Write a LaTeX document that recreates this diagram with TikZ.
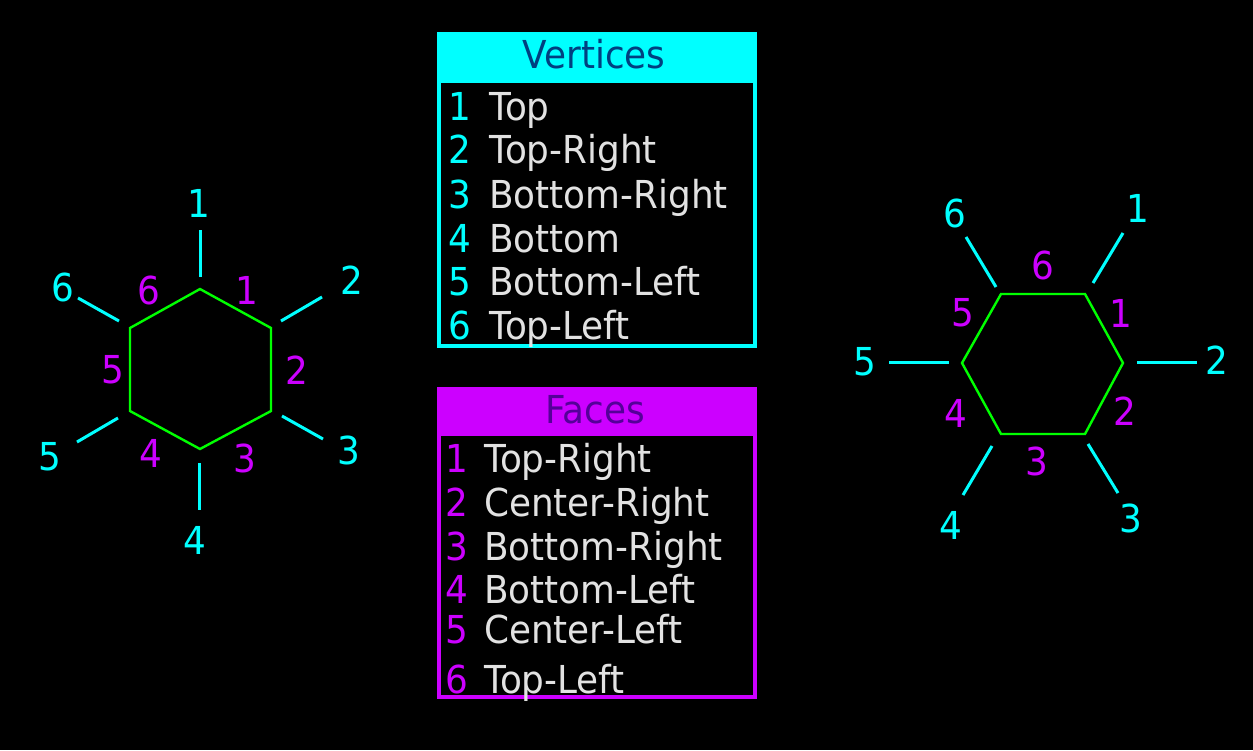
\documentclass[tikz,border=0pt]{standalone}
\usepackage{fontspec}
\setmainfont{DejaVu Sans}[FakeStretch=0.93]
\usepackage{tikz}

\definecolor{vcyan}{RGB}{0,255,255}
\definecolor{fmag}{RGB}{204,0,255}
\definecolor{hgreen}{RGB}{0,255,0}
\definecolor{rowgray}{RGB}{226,226,226}
\definecolor{vhead}{RGB}{0,64,128}
\definecolor{fhead}{RGB}{85,0,153}

\begin{document}
\begin{tikzpicture}[x=1pt, y=-1pt,
		every node/.style={inner sep=0pt, font=\fontsize{38.5}{44}\selectfont},
		hexline/.style={color=hgreen, line width=2.4pt, line join=miter},
		spoke/.style={color=vcyan, line width=3pt},
		vlab/.style={text=vcyan},
		flab/.style={text=fmag},
		rowtext/.style={anchor=base west, text=rowgray},
		vnum/.style={anchor=base west, text=vcyan},
		fnum/.style={anchor=base west, text=fmag}]
			\fill[black] (0, 0) rectangle (1253, 750);

			% left hexagon, pointy top
			\coordinate (lh1) at (200, 289);
			\coordinate (lh2) at (271, 328);
			\coordinate (lh3) at (271, 411);
			\coordinate (lh4) at (200, 449);
			\coordinate (lh5) at (130, 411);
			\coordinate (lh6) at (130, 328);
			\draw[hexline] (lh1) -- (lh2) -- (lh3) -- (lh4) -- (lh5) -- (lh6) -- cycle;

			\coordinate (la1) at (200, 277);  \coordinate (lb1) at (200, 230);
			\coordinate (la2) at (281, 321);  \coordinate (lb2) at (322, 297);
			\coordinate (la3) at (282, 416);  \coordinate (lb3) at (323, 439);
			\coordinate (la4) at (199, 463);  \coordinate (lb4) at (199, 510);
			\coordinate (la5) at (118, 418);  \coordinate (lb5) at (77, 442);
			\coordinate (la6) at (119, 321);  \coordinate (lb6) at (78, 298);

			\draw[spoke] (la1) -- (lb1);
			\draw[spoke] (la2) -- (lb2);
			\draw[spoke] (la3) -- (lb3);
			\draw[spoke] (la4) -- (lb4);
			\draw[spoke] (la5) -- (lb5);
			\draw[spoke] (la6) -- (lb6);

			\node[vlab] (lv1) at (199, 203) {1};
			\node[vlab] (lv2) at (352, 280) {2};
			\node[vlab] (lv3) at (349, 450) {3};
			\node[vlab] (lv4) at (195, 540) {4};
			\node[vlab] (lv5) at (50, 457) {5};
			\node[vlab] (lv6) at (63, 287) {6};

			\node[flab] (lf1) at (247, 290) {1};
			\node[flab] (lf2) at (297, 370) {2};
			\node[flab] (lf3) at (245, 458) {3};
			\node[flab] (lf4) at (151, 453) {4};
			\node[flab] (lf5) at (113, 370) {5};
			\node[flab] (lf6) at (149, 290) {6};

			% right hexagon, flat top
			\coordinate (rh1) at (1085, 294);
			\coordinate (rh2) at (1123, 363);
			\coordinate (rh3) at (1085, 434);
			\coordinate (rh4) at (1001, 434);
			\coordinate (rh5) at (962, 363);
			\coordinate (rh6) at (1001, 294);
			\draw[hexline] (rh1) -- (rh2) -- (rh3) -- (rh4) -- (rh5) -- (rh6) -- cycle;

			\coordinate (ra1) at (1093, 283);  \coordinate (rb1) at (1123, 233);
			\coordinate (ra2) at (1137, 362);  \coordinate (rb2) at (1197, 362);
			\coordinate (ra3) at (1088, 444);  \coordinate (rb3) at (1118, 493);
			\coordinate (ra4) at (992, 446);   \coordinate (rb4) at (963, 495);
			\coordinate (ra5) at (949, 362);   \coordinate (rb5) at (889, 362);
			\coordinate (ra6) at (996, 287);   \coordinate (rb6) at (966, 237);

			\draw[spoke] (ra1) -- (rb1);
			\draw[spoke] (ra2) -- (rb2);
			\draw[spoke] (ra3) -- (rb3);
			\draw[spoke] (ra4) -- (rb4);
			\draw[spoke] (ra5) -- (rb5);
			\draw[spoke] (ra6) -- (rb6);

			\node[vlab] (rv1) at (1138, 208) {1};
			\node[vlab] (rv2) at (1217, 360) {2};
			\node[vlab] (rv3) at (1131, 518) {3};
			\node[vlab] (rv4) at (951, 525) {4};
			\node[vlab] (rv5) at (865, 362) {5};
			\node[vlab] (rv6) at (955, 213) {6};

			\node[flab] (rf1) at (1121, 313) {1};
			\node[flab] (rf2) at (1125, 411) {2};
			\node[flab] (rf3) at (1037, 461) {3};
			\node[flab] (rf4) at (956, 413) {4};
			\node[flab] (rf5) at (963, 313) {5};
			\node[flab] (rf6) at (1043, 265) {6};

			% vertices table
			\fill[vcyan] (437, 32) rectangle (757, 83);
			\draw[vcyan, line width=4pt] (439, 34) rectangle (755, 346);
			\node[anchor=base, text=vhead] (vtitle) at (594, 68) {Vertices};
			\node[vnum] (vn1) at (448, 120) {1}; \node[rowtext] (vt1) at (489, 120) {Top};
			\node[vnum] (vn2) at (448, 163) {2}; \node[rowtext] (vt2) at (489, 163) {Top-Right};
			\node[vnum] (vn3) at (448, 208) {3}; \node[rowtext] (vt3) at (489, 208) {Bottom-Right};
			\node[vnum] (vn4) at (448, 252) {4}; \node[rowtext] (vt4) at (489, 252) {Bottom};
			\node[vnum] (vn5) at (448, 295) {5}; \node[rowtext] (vt5) at (489, 295) {Bottom-Left};
			\node[vnum] (vn6) at (448, 339) {6}; \node[rowtext] (vt6) at (489, 339) {Top-Left};

			% faces table
			\fill[fmag] (437, 387) rectangle (757, 436);
			\draw[fmag, line width=4pt] (439, 389) rectangle (755, 697);
			\node[anchor=base, text=fhead] (ftitle) at (595, 423) {Faces};
			\node[fnum] (fn1) at (445, 472) {1}; \node[rowtext] (ft1) at (484, 472) {Top-Right};
			\node[fnum] (fn2) at (445, 516) {2}; \node[rowtext] (ft2) at (484, 516) {Center-Right};
			\node[fnum] (fn3) at (445, 560) {3}; \node[rowtext] (ft3) at (484, 560) {Bottom-Right};
			\node[fnum] (fn4) at (445, 603) {4}; \node[rowtext] (ft4) at (484, 603) {Bottom-Left};
			\node[fnum] (fn5) at (445, 643) {5}; \node[rowtext] (ft5) at (484, 643) {Center-Left};
			\node[fnum] (fn6) at (445, 693) {6}; \node[rowtext] (ft6) at (484, 693) {Top-Left};
		\end{tikzpicture}
\end{document}
